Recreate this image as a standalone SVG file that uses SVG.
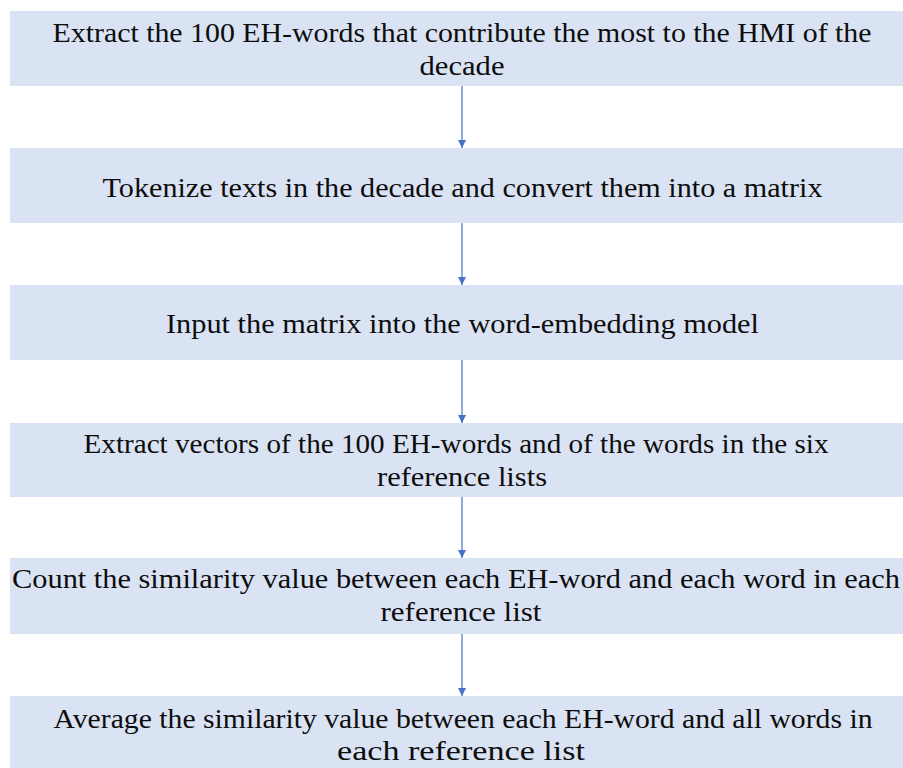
<svg xmlns="http://www.w3.org/2000/svg" width="903" height="768" viewBox="0 0 903 768">
<style>
.box{fill:#dae3f3;}
.t{font-family:"Liberation Serif","Times New Roman",serif;font-size:28px;fill:#0d0d0d;text-anchor:middle;}
.c{stroke:#4472c4;stroke-width:1.2;fill:none;}
</style>
<defs>
<marker id="ah" viewBox="0 0 8 8" refX="8" refY="4" markerWidth="8" markerHeight="8" markerUnits="userSpaceOnUse" orient="auto">
<path d="M0,0 L8,4 L0,8 z" fill="#4472c4"/>
</marker>
</defs>
<rect width="903" height="768" fill="#ffffff"/>
<g id="n1">
<rect class="box" x="10" y="11" width="893" height="75"/>
<text class="t" x="462" y="42" textLength="819" lengthAdjust="spacingAndGlyphs">Extract the 100 EH-words that contribute the most to the HMI of the</text>
<text class="t" x="462" y="75" textLength="85" lengthAdjust="spacingAndGlyphs">decade</text>
</g>
<g id="n2">
<rect class="box" x="10" y="148" width="893" height="75"/>
<text class="t" x="462.5" y="197" textLength="720" lengthAdjust="spacingAndGlyphs">Tokenize texts in the decade and convert them into a matrix</text>
</g>
<g id="n3">
<rect class="box" x="10" y="285" width="893" height="75"/>
<text class="t" x="462.5" y="333" textLength="593" lengthAdjust="spacingAndGlyphs">Input the matrix into the word-embedding model</text>
</g>
<g id="n4">
<rect class="box" x="10" y="423" width="893" height="74"/>
<text class="t" x="456" y="453" textLength="745" lengthAdjust="spacingAndGlyphs">Extract vectors of the 100 EH-words and of the words in the six</text>
<text class="t" x="462" y="486" textLength="170" lengthAdjust="spacingAndGlyphs">reference lists</text>
</g>
<g id="n5">
<rect class="box" x="10" y="558" width="893" height="76"/>
<text class="t" x="456" y="588" textLength="888" lengthAdjust="spacingAndGlyphs">Count the similarity value between each EH-word and each word in each</text>
<text class="t" x="461" y="621" textLength="161" lengthAdjust="spacingAndGlyphs">reference list</text>
</g>
<g id="n6">
<rect class="box" x="10" y="696" width="893" height="72"/>
<text class="t" x="463" y="728" textLength="819" lengthAdjust="spacingAndGlyphs">Average the similarity value between each EH-word and all words in</text>
<text class="t" x="461" y="760" textLength="248" lengthAdjust="spacingAndGlyphs">each reference list</text>
</g>
<g id="connectors">
<line class="c" x1="462" y1="86" x2="462" y2="148" marker-end="url(#ah)"/>
<line class="c" x1="462" y1="223" x2="462" y2="285" marker-end="url(#ah)"/>
<line class="c" x1="462" y1="360" x2="462" y2="423" marker-end="url(#ah)"/>
<line class="c" x1="462" y1="497" x2="462" y2="558" marker-end="url(#ah)"/>
<line class="c" x1="462" y1="634" x2="462" y2="696" marker-end="url(#ah)"/>
</g>
</svg>
